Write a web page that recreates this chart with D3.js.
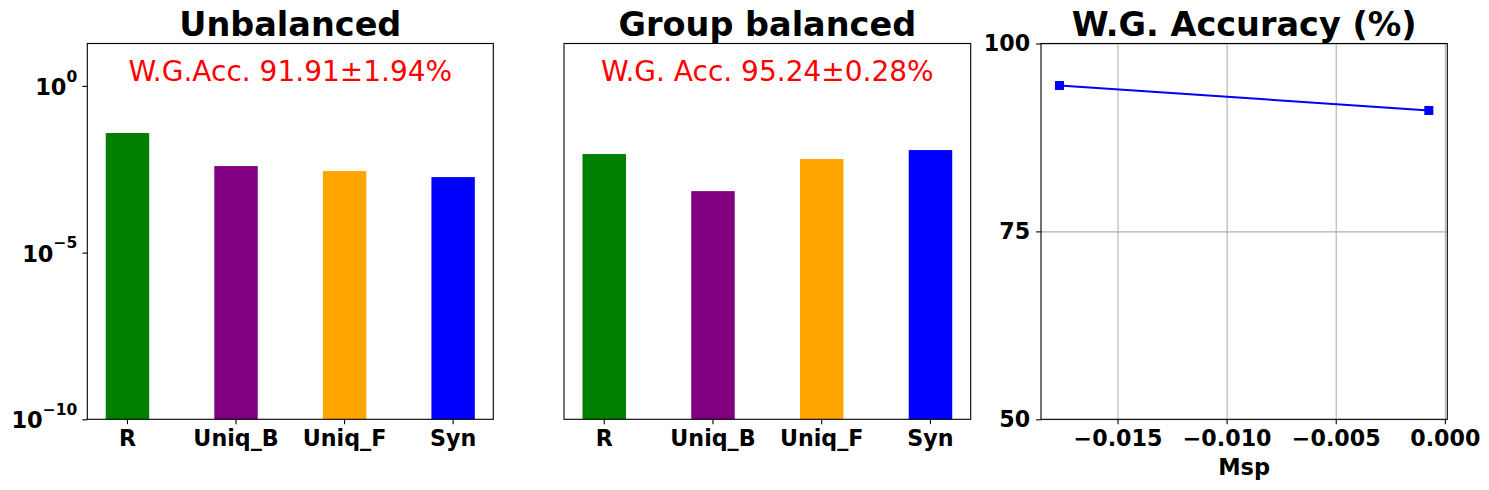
<!DOCTYPE html>
<html>
<head>
<meta charset="utf-8">
<script src="https://cdn.jsdelivr.net/npm/d3@7"></script>
<style>
  body { margin: 0; background: #fff; }
  svg { display: block; }
  text { font-family: "DejaVu Sans", sans-serif; }
  .tick text { font-weight: bold; font-family: "DejaVu Sans", sans-serif; }
</style>
</head>
<body>
<svg id="chart" width="1489" height="490"></svg>
<script>
// bar categories shared by the two left panels
const categories = ['R', 'Uniq_B', 'Uniq_F', 'Syn'];
const barColors = ['#008000', '#800080', '#ffa500', '#0000ff'];

// values
const unbalancedValues = [0.0386, 0.00394, 0.00279, 0.00184];
const balancedValues = [0.00904, 0.000698, 0.0064, 0.0119];

const unbalancedNote = 'W.G.Acc. 91.91±1.94%';
const balancedNote = 'W.G. Acc. 95.24±0.28%';

// right panel: worst-group accuracy vs Msp
const mspValues = [-0.01766, -0.000734];
const accValues = [94.41, 91.09];
const mspTicks = [-0.015, -0.010, -0.005, 0.000];
const accTicks = [50, 75, 100];

const logTicks = [1e-10, 1e-5, 1];
const logTickExp = ['−10', '−5', '0'];

const svg = d3.select('#chart');
const plotTop = 43.5, plotBottom = 419.3;
const height = plotBottom - plotTop;
const tickFont = 22.2;

const yLog = d3.scaleLog().domain([1e-10, 18.7]).range([height, 0]);

function barPanel(left, right, title, values, note, showY) {
  const width = right - left;
  const g = svg.append('g').attr('transform', `translate(${left},${plotTop})`);

  const x = d3.scaleBand()
    .domain(categories)
    .range([0, width])
    .paddingInner(0.6)
    .paddingOuter(0.17);

  g.selectAll('rect.bar')
    .data(values)
    .enter()
    .append('rect')
      .attr('class', 'bar')
      .attr('x', (d, i) => x(categories[i]))
      .attr('width', x.bandwidth())
      .attr('y', d => yLog(d))
      .attr('height', d => height - yLog(d))
      .attr('fill', (d, i) => barColors[i]);

  // frame
  g.append('rect')
    .attr('width', width).attr('height', height)
    .attr('fill', 'none').attr('stroke', '#000').attr('stroke-width', 1.1);

  // x axis
  const xa = g.append('g')
    .attr('transform', `translate(0,${height})`)
    .call(d3.axisBottom(x).tickSizeOuter(0).tickSize(4.9).tickPadding(5));
  xa.select('.domain').remove();
  xa.selectAll('.tick line').attr('stroke-width', 1.1);
  xa.selectAll('.tick text').attr('font-size', tickFont).attr('fill', '#000')
    .attr('dy', '0.76em');

  if (showY) {
    const ya = g.append('g')
      .call(d3.axisLeft(yLog).tickValues(logTicks).tickFormat('').tickSize(4.9).tickSizeOuter(0));
    ya.select('.domain').remove();
    ya.selectAll('.tick line').attr('stroke-width', 1.1);
    ya.selectAll('.tick').each(function(d, i) {
      const t = d3.select(this).append('text')
        .attr('x', -10).attr('y', 0)
        .attr('text-anchor', 'end')
        .attr('fill', '#000')
        .attr('font-weight', 'bold');
      t.append('tspan').attr('font-size', 22.5).attr('dy', '0.38em').text('10');
      t.append('tspan').attr('font-size', 15.5).attr('dy', '-0.85em').text(logTickExp[i]);
    });
  }

  g.append('text')
    .attr('x', width / 2).attr('y', 80.7 - plotTop)
    .attr('text-anchor', 'middle')
    .attr('font-size', 28)
    .attr('fill', '#ff0000')
    .text(note);

  svg.append('text')
    .attr('x', left + width / 2).attr('y', 35.5)
    .attr('text-anchor', 'middle')
    .attr('font-size', 33.5)
    .attr('font-weight', 'bold')
    .text(title);
}

barPanel(87.3, 493.3, 'Unbalanced', unbalancedValues, unbalancedNote, true);
barPanel(564, 970.7, 'Group balanced', balancedValues, balancedNote, false);

// right line panel
(function() {
  const left = 1041, right = 1447.3;
  const width = right - left;
  const g = svg.append('g').attr('transform', `translate(${left},${plotTop})`);

  const pad = (mspValues[1] - mspValues[0]) * 0.05;
  const x = d3.scaleLinear().domain([mspValues[0] - pad, mspValues[1] + pad]).range([0, width]);
  const y = d3.scaleLinear().domain([50, 100]).range([height, 0]);

  // grid
  g.append('g')
    .call(d3.axisBottom(x).tickValues(mspTicks).tickSize(height).tickFormat(''))
    .call(s => s.select('.domain').remove())
    .selectAll('.tick line').attr('stroke', '#b0b0b0').attr('stroke-width', 1.1);
  g.append('g')
    .call(d3.axisLeft(y).tickValues(accTicks).tickSize(-width).tickFormat(''))
    .call(s => s.select('.domain').remove())
    .selectAll('.tick line').attr('stroke', '#b0b0b0').attr('stroke-width', 1.1);

  const line = d3.line()
    .x((d, i) => x(mspValues[i]))
    .y(d => y(d));

  g.append('path')
    .datum(accValues)
    .attr('fill', 'none')
    .attr('stroke', '#0000ff')
    .attr('stroke-width', 2)
    .attr('d', line);

  g.selectAll('rect.marker')
    .data(accValues)
    .enter()
    .append('rect')
      .attr('class', 'marker')
      .attr('x', (d, i) => x(mspValues[i]) - 4.5)
      .attr('y', d => y(d) - 4.5)
      .attr('width', 9).attr('height', 9)
      .attr('fill', '#0000ff');

  g.append('rect')
    .attr('width', width).attr('height', height)
    .attr('fill', 'none').attr('stroke', '#000').attr('stroke-width', 1.1);

  const xa = g.append('g')
    .attr('transform', `translate(0,${height})`)
    .call(d3.axisBottom(x).tickValues(mspTicks).tickFormat(d3.format('.3f')).tickSize(4.9).tickPadding(5));
  xa.select('.domain').remove();
  xa.selectAll('.tick line').attr('stroke-width', 1.1);
  xa.selectAll('.tick text').attr('font-size', tickFont).attr('fill', '#000').attr('dy', '0.76em');

  const ya = g.append('g')
    .call(d3.axisLeft(y).tickValues(accTicks).tickSize(4.9).tickPadding(6));
  ya.select('.domain').remove();
  ya.selectAll('.tick line').attr('stroke-width', 1.1);
  ya.selectAll('.tick text').attr('font-size', tickFont).attr('fill', '#000');

  g.append('text')
    .attr('x', width / 2).attr('y', 475 - plotTop)
    .attr('text-anchor', 'middle')
    .attr('font-size', 22.5)
    .attr('font-weight', 'bold')
    .text('Msp');

  svg.append('text')
    .attr('x', left + width / 2).attr('y', 35.5)
    .attr('text-anchor', 'middle')
    .attr('font-size', 33.5)
    .attr('font-weight', 'bold')
    .text('W.G. Accuracy (%)');
})();
</script>
</body>
</html>
